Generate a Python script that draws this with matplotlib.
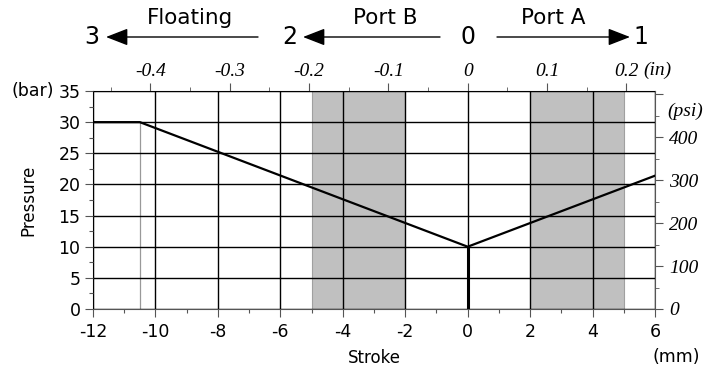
import matplotlib
matplotlib.use("Agg")
import matplotlib.pyplot as plt
from matplotlib.patches import FancyArrowPatch
from matplotlib.ticker import MultipleLocator, FixedLocator

plt.rcParams["axes.unicode_minus"] = False

# data
stroke_mm = [-12, -10.5, 0, 6]
pressure_bar = [30, 30, 10, 21.4]
shaded_ranges = [(-5, -2), (2, 5)]
float_limit_mm = -10.5

x_ticks = [-12, -10, -8, -6, -4, -2, 0, 2, 4, 6]
y_ticks = [0, 5, 10, 15, 20, 25, 30, 35]
in_ticks = [-0.4, -0.3, -0.2, -0.1, 0, 0.1, 0.2]
in_labels = ["-0.4", "-0.3", "-0.2", "-0.1", "0", "0.1", "0.2"]
psi_ticks = [0, 100, 200, 300, 400, 500]
psi_labels = ["0", "100", "200", "300", "400", ""]

BAR_TO_PSI = 14.5038
MM_PER_IN = 25.4

fig = plt.figure(figsize=(7.04, 3.74), dpi=100)
ax = fig.add_axes([0.1321, 0.1738, 0.7983, 0.5829])

for lo, hi in shaded_ranges:
    ax.axvspan(lo, hi, color="#c0c0c0", zorder=0, lw=0)
    ax.axvline(lo if lo < 0 else hi, color="#a0a0a0", lw=0.8, zorder=0.5)

ax.set_xlim(-12, 6)
ax.set_ylim(0, 35)
ax.xaxis.set_major_locator(FixedLocator(x_ticks))
ax.xaxis.set_minor_locator(MultipleLocator(1))
ax.yaxis.set_major_locator(FixedLocator(y_ticks))
ax.yaxis.set_minor_locator(MultipleLocator(2.5))
ax.grid(True, which="major", color="black", lw=1.0, zorder=1)
ax.set_axisbelow(False)

ax.plot([float_limit_mm, float_limit_mm], [0, 30], color="#999999", lw=0.9, zorder=2)
ax.plot([0, 0], [0, 10], color="black", lw=2.2, zorder=3)
ax.plot(stroke_mm, pressure_bar, color="black", lw=1.6, zorder=4)

for s in ["left", "bottom", "top", "right"]:
    ax.spines[s].set_color("#555555")
    ax.spines[s].set_linewidth(0.8)

ax.tick_params(axis="both", which="major", direction="out", length=6,
               labelsize=12.5, color="#555555", width=0.8)
ax.tick_params(axis="both", which="minor", direction="out", length=3,
               color="#555555", width=0.8)
ax.tick_params(axis="x", pad=4)
ax.tick_params(axis="y", pad=3)

ax.set_xlabel("Stroke", fontsize=12, labelpad=6)
ax.set_ylabel("Pressure", fontsize=12, labelpad=15)

serif_it = dict(family="Liberation Serif", style="italic", size=14)

top = ax.secondary_xaxis("top", functions=(lambda x: x / MM_PER_IN, lambda x: x * MM_PER_IN))
top.xaxis.set_major_locator(FixedLocator(in_ticks))
top.xaxis.set_minor_locator(MultipleLocator(0.05))
top.set_xticklabels(in_labels, fontdict=serif_it)
top.tick_params(which="major", direction="out", length=6, pad=2, color="#555555")
top.tick_params(which="minor", direction="out", length=3, color="#555555")
top.spines["top"].set_visible(False)

right = ax.secondary_yaxis("right", functions=(lambda y: y * BAR_TO_PSI, lambda y: y / BAR_TO_PSI))
right.yaxis.set_major_locator(FixedLocator(psi_ticks))
right.yaxis.set_minor_locator(MultipleLocator(50))
right.set_yticklabels(psi_labels, fontdict=serif_it)
right.tick_params(which="major", direction="out", length=6, pad=4, color="#555555")
right.tick_params(which="minor", direction="out", length=3, color="#555555")
right.spines["right"].set_visible(False)

fig.text(54 / 704, 1 - 91 / 374, "(bar)", fontsize=12.5, va="center", ha="right")
fig.text(667 / 704, 1 - 111 / 374, "(psi)", va="center", ha="left", **serif_it)
fig.text(643 / 704, 1 - 70 / 374, "(in)", va="center", ha="left", **serif_it)
fig.text(676 / 704, 1 - 357 / 374, "(mm)", fontsize=12.5, va="center", ha="center")

# stroke direction arrows above the chart
big = 17
y_arr = 1 - 37 / 374
fig.text(92 / 704, y_arr, "3", fontsize=big, ha="center", va="center")
fig.text(290 / 704, y_arr, "2", fontsize=big, ha="center", va="center")
fig.text(468 / 704, y_arr, "0", fontsize=big, ha="center", va="center")
fig.text(641 / 704, y_arr, "1", fontsize=big, ha="center", va="center")
for x0, x1 in [(258, 106), (440, 303), (497, 630)]:
    fig.add_artist(FancyArrowPatch(
        (x0 / 704, y_arr), (x1 / 704, y_arr), transform=fig.transFigure,
        arrowstyle="-|>,head_length=0.9,head_width=0.35", mutation_scale=15,
        color="black", lw=1.0, shrinkA=0, shrinkB=0))
fig.text(190 / 704, 1 - 18 / 374, "Floating", fontsize=15.5, ha="center", va="center")
fig.text(385 / 704, 1 - 18 / 374, "Port B", fontsize=15.5, ha="center", va="center")
fig.text(553 / 704, 1 - 18 / 374, "Port A", fontsize=15.5, ha="center", va="center")

fig.savefig("out.png", dpi=100)
